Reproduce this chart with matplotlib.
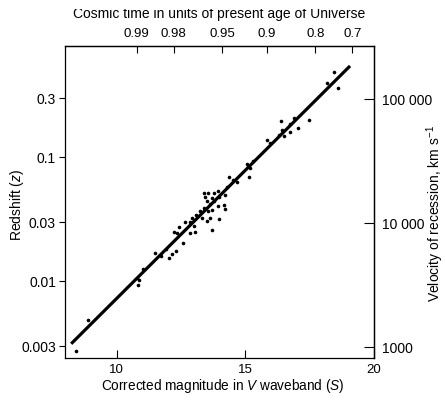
import matplotlib
matplotlib.use("Agg")
import matplotlib.pyplot as plt
from matplotlib.ticker import NullLocator, FixedLocator, FixedFormatter
from matplotlib.patches import Rectangle

plt.rcParams['font.family'] = ['Liberation Sans', 'DejaVu Sans']
plt.rcParams['mathtext.fontset'] = 'custom'
plt.rcParams['mathtext.rm'] = 'Liberation Sans'
plt.rcParams['mathtext.it'] = 'Liberation Sans:italic'

# ---- data ----
mag = [18.45, 18.19, 18.60, 16.38, 16.91, 16.73, 16.42, 17.03, 17.49, 16.74,
       16.32, 16.51, 15.83, 15.96, 15.05, 15.31, 15.18, 15.13, 14.37, 14.53,
       14.68, 14.31, 13.38, 13.55, 13.77, 13.94, 13.44, 13.69, 14.22, 13.50,
       13.80, 13.99, 13.63, 13.40, 13.93, 14.16, 14.22, 13.23, 13.54, 13.71,
       13.10, 13.31, 13.63, 13.97, 13.50, 12.93, 12.86, 12.65, 13.02, 12.44,
       13.69, 12.87, 13.03, 12.22, 12.35, 12.57, 11.91, 11.51, 11.74, 12.05,
       12.16, 12.30, 11.01, 10.79, 10.86, 10.84, 8.89, 8.41]
redshift = [0.480, 0.393, 0.356, 0.193, 0.205, 0.183, 0.163, 0.169, 0.197, 0.159,
            0.150, 0.146, 0.137, 0.130, 0.0879, 0.0918, 0.0811, 0.0682, 0.0682, 0.0653,
            0.0622, 0.0567, 0.0507, 0.0507, 0.0507, 0.0526, 0.0471, 0.0462, 0.0491, 0.0436,
            0.0436, 0.0471, 0.0418, 0.0385, 0.0398, 0.0408, 0.0379, 0.0365, 0.0367, 0.0374,
            0.0337, 0.0322, 0.0322, 0.0313, 0.0303, 0.0319, 0.0296, 0.0296, 0.0275, 0.0270,
            0.0258, 0.0243, 0.0247, 0.0247, 0.0243, 0.0200, 0.0180, 0.0167, 0.0159, 0.0152,
            0.0163, 0.0173, 0.0124, 0.0106, 0.0101, 0.00922, 0.00478, 0.00270]

fit_mag = [8.24, 19.07]
fit_z = [0.0031, 0.54]

x_ticks = [10, 15, 20]
x_tick_labels = ['10', '15', '20']
z_ticks = [0.003, 0.01, 0.03, 0.1, 0.3]
z_tick_labels = ['0.003', '0.01', '0.03', '0.1', '0.3']
vel_ticks = [1000, 10000, 100000]
vel_tick_labels = ['1000', '10 000', '100 000']
time_tick_mag = [10.78, 12.22, 14.10, 15.85, 17.72, 19.16]
time_tick_labels = ['0.99', '0.98', '0.95', '0.9', '0.8', '0.7']
vel_per_z = 3.4e5

# ---- figure ----
W, H = 445, 402
fig = plt.figure(figsize=(W / 100, H / 100), dpi=100)
ax = fig.add_axes([65 / W, 1 - 359 / H, (374 - 65) / W, (359 - 47) / H])

ax.plot(fit_mag, fit_z, color='black', lw=2.3, solid_capstyle='butt', zorder=2)
ax.plot(mag, redshift, linestyle='none', marker='o', ms=2.6, color='black',
        markeredgewidth=0, zorder=3)

ax.set_yscale('log')
ax.set_xlim(8, 20)
ax.set_ylim(0.00238, 0.782)

ax.xaxis.set_major_locator(FixedLocator(x_ticks))
ax.xaxis.set_major_formatter(FixedFormatter(x_tick_labels))
ax.yaxis.set_major_locator(FixedLocator(z_ticks))
ax.yaxis.set_major_formatter(FixedFormatter(z_tick_labels))
ax.yaxis.set_minor_locator(NullLocator())
ax.xaxis.set_minor_locator(NullLocator())

ax.tick_params(axis='x', direction='in', length=6, width=0.8, pad=3.5, labelsize=9.5)
ax.tick_params(axis='y', direction='out', length=4.5, width=0.8, pad=2, labelsize=10)
for s in ax.spines.values():
    s.set_linewidth(0.9)

# right axis: velocity
sec_y = ax.secondary_yaxis('right', functions=(lambda z: z * vel_per_z,
                                               lambda v: v / vel_per_z))
sec_y.set_yscale('log')
sec_y.yaxis.set_major_locator(FixedLocator(vel_ticks))
sec_y.yaxis.set_major_formatter(FixedFormatter(vel_tick_labels))
sec_y.yaxis.set_minor_locator(NullLocator())
sec_y.tick_params(axis='y', direction='in', length=7, width=0.8, pad=6, labelsize=10)
sec_y.spines['right'].set_linewidth(0.9)

# top axis: cosmic time
sec_x = ax.secondary_xaxis('top')
sec_x.xaxis.set_major_locator(FixedLocator(time_tick_mag))
sec_x.xaxis.set_major_formatter(FixedFormatter(time_tick_labels))
sec_x.xaxis.set_minor_locator(NullLocator())
sec_x.tick_params(axis='x', direction='in', length=5, width=0.8, pad=5, labelsize=9.5)
sec_x.spines['top'].set_linewidth(0.9)

# labels
fig.text(222.5 / W, 1 - 386.5 / H,
         r'Corrected magnitude in $\mathit{V}$ waveband ($\mathit{S}$)',
         ha='center', va='center', fontsize=9.8)
fig.text(17 / W, 1 - 205 / H, r'Redshift ($\mathit{z}$)', rotation=90,
         ha='center', va='center', fontsize=10)
fig.text(435 / W, 1 - 214 / H, r'Velocity of recession, km s$^{-1}$', rotation=90,
         ha='center', va='center', fontsize=10)
fig.text(219.5 / W, 1 - 18 / H, 'Cosmic time in units of present age of Universe',
         ha='center', va='baseline', fontsize=10)

# the reference's top edge is cropped through the title
fig.add_artist(Rectangle((0, 1 - 10 / H), 1, 10 / H, transform=fig.transFigure,
                         facecolor='white', edgecolor='none', zorder=10))

fig.savefig('out.png', dpi=100, facecolor='white')
